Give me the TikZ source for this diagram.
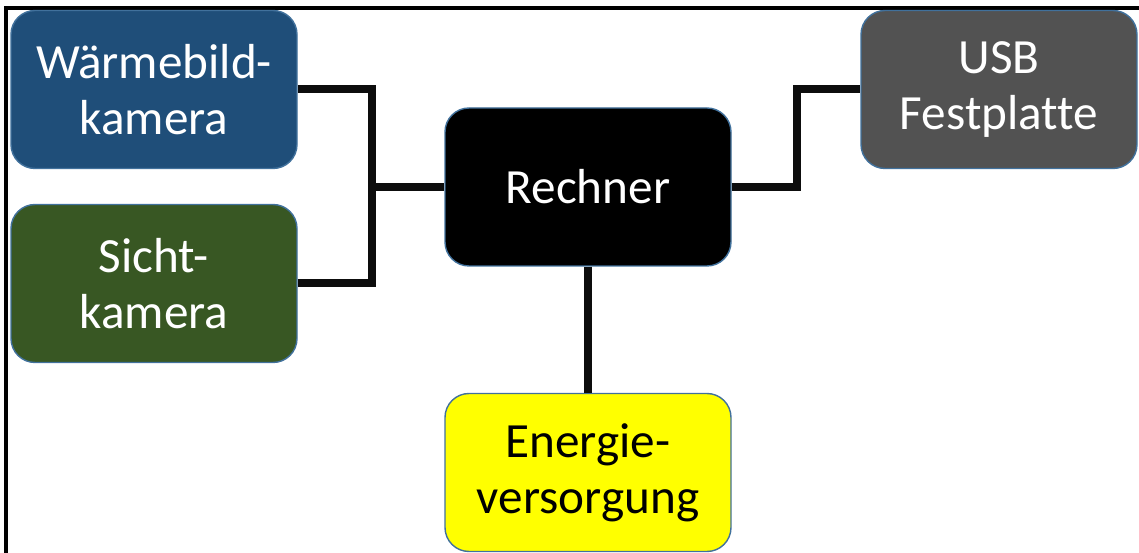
\documentclass[tikz,border=0pt]{standalone}
\usepackage{fontspec}
\setmainfont{Carlito}[Ligatures=NoCommon]
\usetikzlibrary{positioning}

\definecolor{waermeblau}{HTML}{1F4E79}
\definecolor{sichtgruen}{HTML}{385723}
\definecolor{usbgrau}{HTML}{525252}
\definecolor{randblau}{HTML}{41719C}
\definecolor{energiegelb}{HTML}{FFFF00}

\begin{document}
\begin{tikzpicture}[
    box/.style={draw=randblau, line width=1pt, rounded corners=0.6cm,
      minimum width=7.15cm, minimum height=3.95cm, align=center,
      font=\fontsize{35}{40}\selectfont, inner sep=0pt},
    verbindung/.style={line width=0.2cm, color=black!95}
  ]

    % Bounding box
    \useasboundingbox (0,0) rectangle (28.475,13.825);

    % Frame (top and left)
    \draw[line width=2.2pt] (0.15,0) -- (0.15,13.625) -- (28.5,13.625);

    % Boxes
    \node[box, fill=waermeblau, text=white] (waerme) at (3.85,11.5875) {Wärmebild-\\kamera};
    \node[box, fill=sichtgruen, text=white] (sicht) at (3.85,6.7375) {Sicht-\\kamera};
    \node[box, fill=black, text=white] (rechner) at (14.7,9.15) {Rechner};
    \node[box, fill=usbgrau, text=white, minimum width=6.9cm] (usb) at (24.975,11.5875) {USB\\Festplatte};
    \node[box, fill=energiegelb, text=black] (energie) at (14.7,2.0125) {Energie-\\versorgung};

    % Junctions
    \coordinate (knotenL) at (9.3,9.15);
    \coordinate (knotenR) at (19.925,11.5875);

    % Connections
    \draw[verbindung] (waerme.east) -| (knotenL) -- (rechner.west);
    \draw[verbindung] (sicht.east) -| (knotenL);
    \draw[verbindung] (rechner.east) -| (knotenR) -- (usb.west);
    \draw[verbindung] (rechner.south) -- (energie.north);

\end{tikzpicture}
\end{document}
